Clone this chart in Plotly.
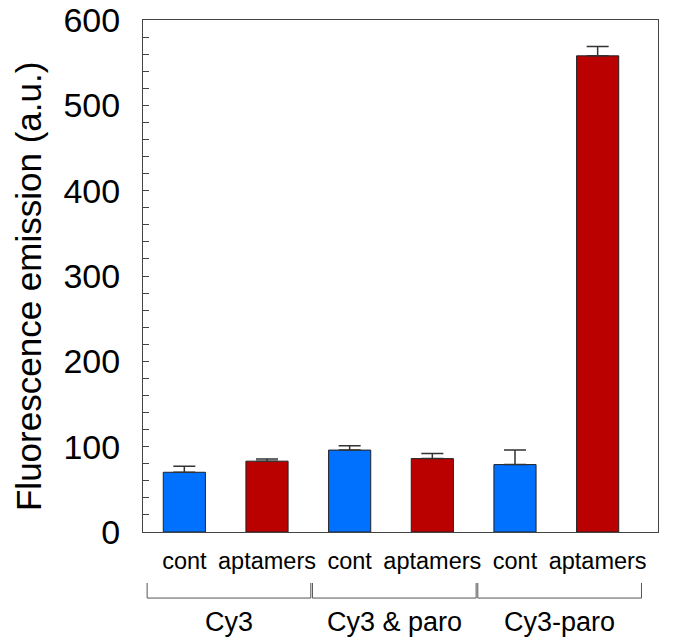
import plotly.graph_objects as go

# data
groups = ['Cy3', 'Cy3 & paro', 'Cy3-paro']
conditions = ['cont', 'aptamers']
values = [70, 83, 96, 86, 79, 558]
errors = [7, 2.5, 5, 6, 17, 11]
bar_colors = ['#0070FF', '#BB0000']

FONT = 'Liberation Sans, Arial, sans-serif'

n = len(groups) * len(conditions)
xpos = list(range(n))
tick_text = [conditions[i % len(conditions)] for i in range(n)]
colors = [bar_colors[i % len(conditions)] for i in range(n)]

fig = go.Figure()

fig.add_trace(go.Bar(
    x=xpos,
    y=values,
    width=0.51,
    marker=dict(color=colors, line=dict(color='#222222', width=1)),
    error_y=dict(type='data', array=errors, arrayminus=[0] * n, symmetric=False,
                 color='#333333', thickness=1.5, width=11),
    showlegend=False,
))

# brackets and group labels under the category labels
for g, name in enumerate(groups):
    x0 = g * 2 - 0.45
    x1 = g * 2 + 1.53
    fig.add_shape(type='path',
                  path=f'M {x0},-0.0996 L {x0},-0.129 L {x1},-0.129 L {x1},-0.0996',
                  xref='x', yref='paper', line=dict(color='#555555', width=1))
    fig.add_annotation(x=(x0 + x1) / 2, y=-0.176, xref='x', yref='paper',
                       text=name, showarrow=False, yanchor='middle',
                       font=dict(size=27, color='black', family=FONT))

# y-axis title as an annotation so its place can be set exactly
fig.add_annotation(x=-0.2233, y=0.4785, xref='paper', yref='paper',
                   text='Fluorescence emission (a.u.)', textangle=-90,
                   showarrow=False, xanchor='center', yanchor='middle',
                   font=dict(size=35, color='black', family=FONT))

# page body has an 8px margin, so the figure is a bit smaller than the window
fig.update_layout(
    width=677, height=632,
    margin=dict(l=135, r=27, t=12, b=108, autoexpand=False),
    plot_bgcolor='white', paper_bgcolor='white',
    font=dict(family=FONT, color='black'),
)

fig.update_xaxes(
    range=[-0.5, 5.73], automargin=False,
    tickmode='array', tickvals=xpos, ticktext=tick_text,
    tickfont=dict(size=23.5), ticks='', ticklabelstandoff=8,
    showline=True, mirror=True, linecolor='#444444', linewidth=1,
    showgrid=False, zeroline=False,
)

fig.update_yaxes(
    range=[0, 600], dtick=100, automargin=False,
    ticks='inside', ticklen=6, tickcolor='#444444',
    minor=dict(dtick=20, ticks='inside', ticklen=6, tickcolor='#444444'),
    tickfont=dict(size=34), ticklabelstandoff=15, ticklabeloverflow='allow',
    showline=True, mirror=True, linecolor='#444444', linewidth=1,
    showgrid=False, zeroline=False,
)

fig.write_html('out.html')
